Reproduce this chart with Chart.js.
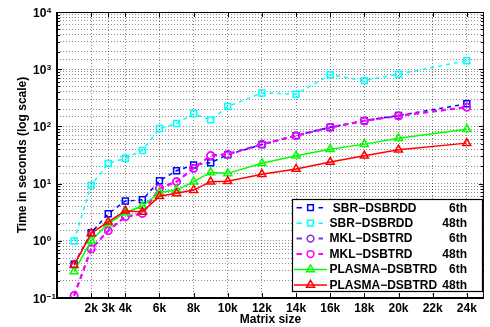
<!DOCTYPE html>
<html><head><meta charset="utf-8">
<script src="https://cdn.jsdelivr.net/npm/chart.js@4"></script>
<style>html,body{margin:0;padding:0;background:#fff}#wrap{width:490px;height:327px}</style>
</head><body><div id="wrap"><canvas id="c" width="490" height="327"></canvas></div>
<script>
// ---- data ----
const matrixSizes = [1000,2000,3000,4000,5000,6000,7000,8000,9000,10000,12000,14000,16000,18000,20000,24000];
const sbr6     = [0.39,1.38,2.97,4.96,5.2,11.2,16.8,21.2,23.2,32,48,69,97,126,155,248];
const sbr48    = [0.99,9.4,22.5,27.7,38,92,112,168,130,222,385,366,798,631,818,1404];
const mkl6     = [0.11,0.72,1.5,2.63,3.0,8.3,10.8,18.5,30.9,32.6,48.8,68.7,96,125,153,217];
const mkl48    = [0.11,0.72,1.5,2.63,3.0,8.3,10.8,18.5,30.9,32.6,48.8,68.7,96,125,153,217];
const plasma6  = [0.29,1.0,2.0,3.1,4.05,7.0,7.7,10.8,15.7,15.1,22.7,30.6,40,49,62,89];
const plasma48 = [0.376,1.35,2.15,3.35,3.2,6.0,6.76,7.7,10.8,11.0,14.6,18,23.8,30.8,39,51];

const xTickValues = [2000,3000,4000,6000,8000,10000,12000,14000,16000,18000,20000,22000,24000];
const xTickLabels = ['2k','3k','4k','6k','8k','10k','12k','14k','16k','18k','20k','22k','24k'];
const yTickValues = [0.1,1,10,100,1000,10000];
const yTickExponents = ['\u22121','0','1','2','3','4'];

const seriesNames = ['SBR\u2212DSBRDD','SBR\u2212DSBRDD','MKL\u2212DSBTRD','MKL\u2212DSBTRD','PLASMA\u2212DSBTRD','PLASMA\u2212DSBTRD'];
const seriesThreads = ['6th','48th','6th','48th','6th','48th'];
const seriesValues = [sbr6,sbr48,mkl6,mkl48,plasma6,plasma48];

// ---- styles ----
const FONT = "'Liberation Sans', Arial, Helvetica, sans-serif";
const styles = [
  {color:'#0000ff', dash:[4,4], width:1.5, point:'rect', r:4.2},
  {color:'#00ffff', dash:[4,4], width:1.5, point:'rect', r:4.2},
  {color:'#7d32e1', dash:[5,4], width:2, point:'circle', r:3.6},
  {color:'#ff00ff', dash:[5,4], width:2, point:'circle', r:3.6},
  {color:'#00ff00', dash:[], width:1.5, point:'triangle', r:4.6},
  {color:'#ff0000', dash:[], width:1.5, point:'triangle', r:4.6}
];

const datasets = seriesValues.map((vals,i)=>({
  label: seriesNames[i]+' '+seriesThreads[i],
  data: matrixSizes.map((x,j)=>({x:x,y:vals[j]})),
  borderColor: styles[i].color,
  backgroundColor: 'rgba(0,0,0,0)',
  borderWidth: styles[i].width,
  borderDash: styles[i].dash,
  pointStyle: styles[i].point,
  pointRadius: styles[i].r,
  pointBorderWidth: 1.5,
  pointBorderColor: styles[i].color,
  pointBackgroundColor: 'rgba(0,0,0,0)',
  tension: 0,
  fill: false,
  order: 10 - i
}));

function drawMarker(ctx, style, x, y, r){
  ctx.save();
  ctx.setLineDash([]);
  ctx.lineWidth = 1.5;
  ctx.strokeStyle = style.color;
  ctx.beginPath();
  if (style.point==='rect'){ const s=Math.SQRT1_2*r; ctx.rect(x-s,y-s,2*s,2*s); }
  else if (style.point==='circle'){ ctx.arc(x,y,r,0,Math.PI*2); }
  else { ctx.moveTo(x, y-r); ctx.lineTo(x+0.866*r, y+r/2); ctx.lineTo(x-0.866*r, y+r/2); ctx.closePath(); }
  ctx.stroke();
  ctx.restore();
}

const decor = {
  id:'decor',
  afterDatasetsDraw(chart){
    const ctx = chart.ctx, a = chart.chartArea;
    const xs = chart.scales.x, ys = chart.scales.y;
    ctx.save();
    // inward ticks
    ctx.strokeStyle = '#000'; ctx.lineWidth = 1; ctx.setLineDash([]);
    ctx.beginPath();
    xTickValues.forEach(v=>{
      const px = Math.round(xs.getPixelForValue(v))+0.5;
      ctx.moveTo(px, a.bottom); ctx.lineTo(px, a.bottom-5);
      ctx.moveTo(px, a.top); ctx.lineTo(px, a.top+5);
    });
    for (let e=-1; e<4; e++){
      for (let m=1; m<10; m++){
        const v = m*Math.pow(10,e);
        const py = Math.round(ys.getPixelForValue(v))+0.5;
        const len = m===1?5:3;
        ctx.moveTo(a.left, py); ctx.lineTo(a.left+len, py);
        ctx.moveTo(a.right, py); ctx.lineTo(a.right-len, py);
      }
    }
    ctx.stroke();
    // box
    ctx.lineWidth = 1;
    ctx.strokeRect(a.left+0.5, a.top+0.5, a.right-a.left-1, a.bottom-a.top);
    ctx.lineWidth = 2;
    ctx.beginPath();
    ctx.moveTo(a.left, a.top); ctx.lineTo(a.left, a.bottom); ctx.lineTo(a.right, a.bottom);
    ctx.stroke();
    // y tick labels 10^n
    ctx.fillStyle = '#000';
    ctx.textAlign = 'left'; ctx.textBaseline = 'alphabetic';
    yTickValues.forEach((v,i)=>{
      const py = ys.getPixelForValue(v);
      ctx.font = 'bold 12px '+FONT;
      ctx.fillText('10', 33, py+4.5);
      const w = ctx.measureText('10').width;
      ctx.font = 'bold 8px '+FONT;
      ctx.fillText(yTickExponents[i], 33+w+0.5, py+0.5);
    });
    // legend
    const lx = 292.5, ly = 199.5, lw = 190, lh = 92;
    ctx.fillStyle = '#fff';
    ctx.fillRect(lx, ly, lw, lh);
    ctx.strokeStyle = '#000'; ctx.lineWidth = 1.2;
    ctx.strokeRect(lx, ly, lw, lh);
    seriesNames.forEach((name,i)=>{
      const st = styles[i];
      const cy = 207.7 + i*15.45;
      ctx.save();
      ctx.strokeStyle = st.color; ctx.lineWidth = st.width;
      if (st.dash.length){
        ctx.setLineDash([]);
        ctx.beginPath();
        ctx.moveTo(296.5, cy); ctx.lineTo(302, cy);
        ctx.moveTo(318.5, cy); ctx.lineTo(323, cy);
        ctx.stroke();
      } else {
        ctx.beginPath(); ctx.moveTo(294, cy); ctx.lineTo(327, cy); ctx.stroke();
      }
      ctx.restore();
      drawMarker(ctx, st, 310.5, cy, st.point==='triangle'?4.6:(st.point==='rect'?4.0:3.4));
      ctx.fillStyle = '#000';
      ctx.font = 'bold 12px '+FONT;
      ctx.textBaseline = 'middle';
      ctx.textAlign = 'left';
      ctx.fillText((i===0?' ':'')+name, 329.5, cy+0.5);
      ctx.textAlign = 'right';
      ctx.fillText(seriesThreads[i], 467, cy+0.5);
    });
    ctx.restore();
  }
};

new Chart(document.getElementById('c'), {
  type: 'line',
  data: { datasets: datasets },
  options: {
    responsive: false,
    animation: false,
    devicePixelRatio: 1,
    layout: { padding: { top: 12, right: 3, left: 0, bottom: 0 } },
    plugins: { legend: { display: false }, tooltip: { enabled: false } },
    scales: {
      x: {
        type: 'linear', min: 0, max: 25000,
        afterBuildTicks: s => { s.ticks = xTickValues.map(v=>({value:v})); },
        afterFit: s => { s.height = 29; },
        ticks: {
          autoSkip: false, maxRotation: 0, padding: 3, color: '#000',
          font: { family: FONT, size: 12, weight: 'bold' },
          callback: (v) => { const i = xTickValues.indexOf(v); return i>=0 ? xTickLabels[i] : ''; }
        },
        grid: { color: 'rgba(0,0,0,0.45)', lineWidth: 1, drawTicks: false },
        border: { display: false, dash: [1,2] },
        title: { display: true, text: 'Matrix size', color: '#000', padding: { top: 0, bottom: 0 },
                 font: { family: FONT, size: 12, weight: 'bold' } }
      },
      y: {
        type: 'logarithmic', min: 0.1, max: 10000,
        afterFit: s => { s.width = 57; },
        ticks: { display: false, autoSkip: false },
        grid: { color: 'rgba(0,0,0,0.45)', lineWidth: 1, drawTicks: false },
        border: { display: false, dash: [1,2] },
        title: { display: true, text: 'Time in seconds (log scale)', color: '#000', padding: { top: 15, bottom: 0 },
                 font: { family: FONT, size: 12, weight: 'bold' } }
      }
    }
  },
  plugins: [decor]
});
</script>
</body></html>
